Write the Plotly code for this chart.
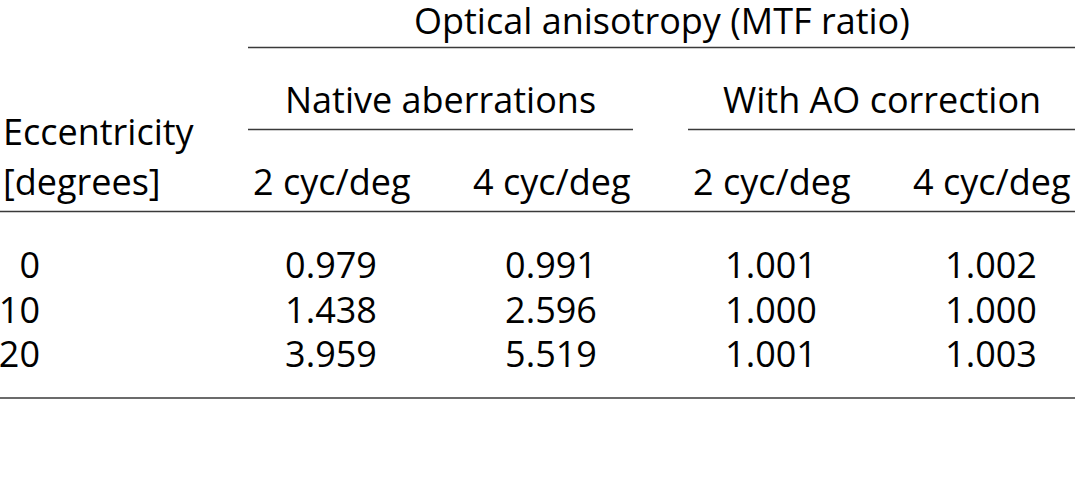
import plotly.graph_objects as go

# ---- data ----
eccentricity = [0, 10, 20]
native_2cpd = [0.979, 1.438, 3.959]
native_4cpd = [0.991, 2.596, 5.519]
ao_2cpd = [1.001, 1.000, 1.001]
ao_4cpd = [1.002, 1.000, 1.003]
col_labels = ["2 cyc/deg", "4 cyc/deg", "2 cyc/deg", "4 cyc/deg"]
group_labels = ["Native aberrations", "With AO correction"]
title_label = "Optical anisotropy (MTF ratio)"
row_header = ["Eccentricity", "[degrees]"]

# ---- layout constants (page pixel space) ----
W, H = 1079, 483
FONT = "Open Sans"
FS = 36
col_x = [331, 551, 771, 991]
row_y0, row_dy = 269, 44.5
ecc_right = 40
y_title, y_group, y_ecc, y_cols = 20, 99, 131, 181
rule_color = "#3a3a3a"

fig = go.Figure()

# values
series = [native_2cpd, native_4cpd, ao_2cpd, ao_4cpd]
for j, s in enumerate(series):
    fig.add_trace(go.Scatter(
        x=[col_x[j]] * len(s),
        y=[row_y0 + i * row_dy for i in range(len(s))],
        text=[f"{v:.3f}" for v in s],
        mode="text", textposition="middle center",
        textfont=dict(family=FONT, size=FS, color="black"),
        hoverinfo="skip", showlegend=False, cliponaxis=False))

# eccentricity column (right aligned)
fig.add_trace(go.Scatter(
    x=[ecc_right] * len(eccentricity),
    y=[row_y0 + i * row_dy for i in range(len(eccentricity))],
    text=[str(e) for e in eccentricity],
    mode="text", textposition="middle left",
    textfont=dict(family=FONT, size=FS, color="black"),
    hoverinfo="skip", showlegend=False, cliponaxis=False))

def ann(x, y, t, xanchor="center"):
    fig.add_annotation(x=x, y=y, text=t, showarrow=False, xanchor=xanchor,
                       yanchor="middle", font=dict(family=FONT, size=FS, color="black"))

ann((248 + 1075) / 2, y_title, title_label)
ann((248 + 633) / 2, y_group, group_labels[0])
ann((688 + 1075) / 2, y_group, group_labels[1])
ann(1, y_ecc, row_header[0], "left")
ann(1, y_cols, row_header[1], "left")
for j, lab in enumerate(col_labels):
    ann(col_x[j], y_cols, lab)

def rule(x0, x1, y):
    fig.add_shape(type="line", x0=x0, x1=x1, y0=y, y1=y,
                  line=dict(color=rule_color, width=1.5))

rule(248, 1075, 47.5)
rule(248, 633, 129.5)
rule(688, 1075, 129.5)
rule(0, 1075, 211.5)
rule(0, 1075, 398)

fig.update_xaxes(range=[0, W], visible=False, fixedrange=True)
fig.update_yaxes(range=[H, 0], visible=False, fixedrange=True)
fig.update_layout(width=W, height=H, margin=dict(l=0, r=0, t=0, b=0),
                  paper_bgcolor="white", plot_bgcolor="white")

fig.write_html("out.html", config={"displayModeBar": False},
               post_script="document.body.style.margin='0';document.body.style.overflow='hidden';")
